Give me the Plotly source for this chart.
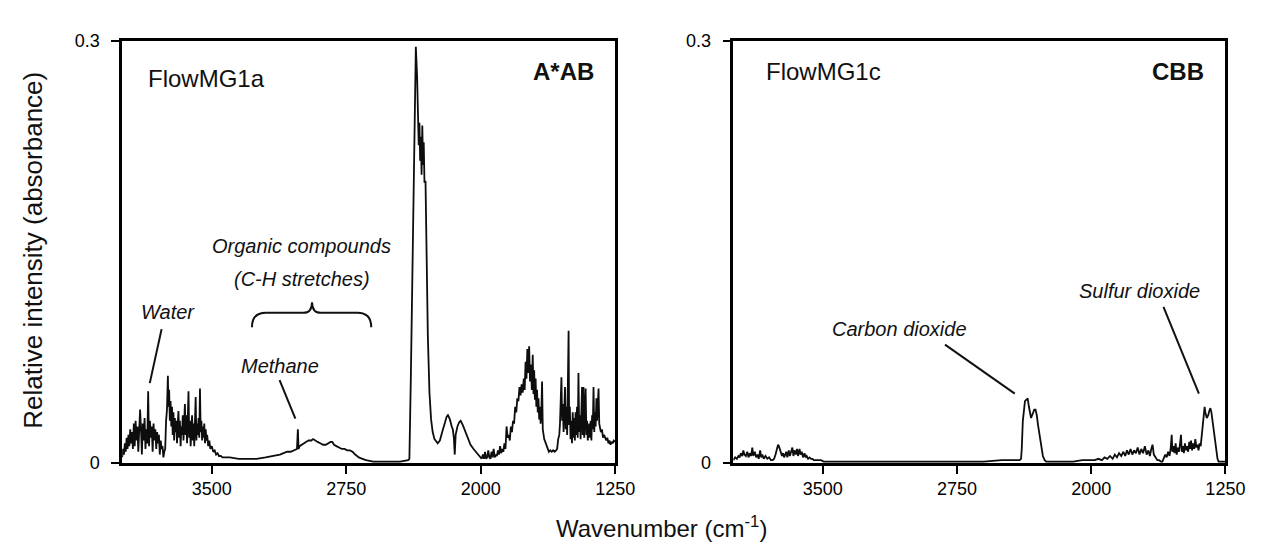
import plotly.graph_objects as go

W, H = 1261, 544

# ---------------- data: FlowMG1a (left panel) ----------------
wn_a_water1 = [4000, 3995, 3990, 3985, 3980, 3975, 3970, 3965, 3960, 3955,
               3950, 3945, 3940, 3935, 3930, 3925, 3920, 3915, 3910, 3905,
               3900, 3895, 3890, 3885, 3880, 3875, 3870, 3865, 3860, 3855,
               3850, 3845, 3840, 3835, 3830, 3825, 3820, 3815, 3810, 3805,
               3800, 3795, 3790, 3785, 3780, 3775, 3770, 3765]
abs_a_water1 = [0.004, 0.010, 0.006, 0.014, 0.008, 0.018, 0.010, 0.020, 0.012, 0.024,
                0.014, 0.022, 0.010, 0.028, 0.012, 0.030, 0.016, 0.026, 0.008, 0.030,
                0.038, 0.024, 0.006, 0.028, 0.016, 0.032, 0.010, 0.024, 0.014, 0.051,
                0.012, 0.030, 0.018, 0.026, 0.008, 0.028, 0.016, 0.024, 0.010, 0.022,
                0.014, 0.020, 0.006, 0.016, 0.010, 0.012, 0.004, 0.008]

wn_a_water2 = [3760, 3755, 3750, 3745, 3742, 3738, 3734, 3730, 3726, 3722,
               3718, 3714, 3710, 3706, 3702, 3698, 3694, 3690, 3686, 3682,
               3678, 3674, 3670, 3666, 3662, 3658, 3654, 3650, 3646, 3642,
               3638, 3634, 3630, 3626, 3622, 3618, 3614, 3610, 3606, 3602,
               3598, 3594, 3590, 3586, 3582, 3578, 3574, 3570, 3566, 3562,
               3558, 3554, 3550, 3546, 3542, 3538, 3534, 3530, 3526, 3520,
               3514, 3508, 3500, 3492, 3484, 3476, 3468, 3460, 3450, 3440]
abs_a_water2 = [0.010, 0.030, 0.038, 0.062, 0.040, 0.052, 0.030, 0.044, 0.026, 0.040,
                0.020, 0.036, 0.016, 0.032, 0.022, 0.030, 0.014, 0.028, 0.037, 0.018,
                0.030, 0.012, 0.026, 0.020, 0.034, 0.016, 0.030, 0.042, 0.020, 0.034,
                0.014, 0.028, 0.051, 0.018, 0.030, 0.012, 0.026, 0.034, 0.016, 0.028,
                0.012, 0.030, 0.047, 0.016, 0.028, 0.020, 0.032, 0.018, 0.053, 0.022,
                0.030, 0.016, 0.026, 0.018, 0.028, 0.014, 0.024, 0.016, 0.020, 0.012,
                0.016, 0.010, 0.012, 0.008, 0.009, 0.006, 0.007, 0.005, 0.005, 0.004]

wn_a_ch = [3400, 3350, 3300, 3250, 3200, 3150, 3120, 3100, 3080, 3060,
           3040, 3025, 3020, 3016, 3010, 3000, 2990, 2975, 2960, 2945,
           2935, 2925, 2910, 2895, 2880, 2864, 2850, 2838, 2828, 2818,
           2805, 2790, 2775, 2760, 2745, 2730, 2715, 2700, 2680, 2660,
           2640, 2600, 2550, 2500, 2450, 2405]
abs_a_ch = [0.004, 0.003, 0.003, 0.003, 0.004, 0.005, 0.006, 0.007, 0.008, 0.008,
            0.009, 0.010, 0.024, 0.010, 0.012, 0.013, 0.014, 0.015, 0.016, 0.016,
            0.017, 0.016, 0.015, 0.014, 0.013, 0.013, 0.014, 0.015, 0.015, 0.013,
            0.012, 0.011, 0.010, 0.010, 0.009, 0.009, 0.008, 0.006, 0.004, 0.003,
            0.002, 0.001, 0.001, 0.001, 0.001, 0.002]

wn_a_co2 = [2398, 2390, 2380, 2370, 2362, 2355, 2350, 2346, 2342, 2338,
            2334, 2330, 2326, 2322, 2318, 2314, 2308, 2302, 2295, 2286,
            2277, 2268, 2258, 2240, 2228, 2215, 2200, 2190, 2183, 2172,
            2162, 2156, 2150, 2145, 2140, 2130, 2120, 2112, 2100, 2085,
            2070, 2057, 2040, 2019, 2002]
abs_a_co2 = [0.003, 0.060, 0.140, 0.220, 0.296, 0.275, 0.253, 0.226, 0.242, 0.215,
             0.232, 0.205, 0.240, 0.212, 0.228, 0.200, 0.200, 0.145, 0.090, 0.050,
             0.031, 0.022, 0.017, 0.014, 0.016, 0.022, 0.029, 0.033, 0.034, 0.031,
             0.026, 0.024, 0.018, 0.006, 0.020, 0.026, 0.029, 0.030, 0.027, 0.022,
             0.017, 0.013, 0.010, 0.007, 0.004]

wn_a_low = [1995, 1988, 1982, 1976, 1970, 1964, 1958, 1952, 1946, 1940,
            1934, 1928, 1922, 1916, 1910, 1904, 1898, 1892, 1886, 1880,
            1874, 1868, 1862, 1856, 1850, 1844, 1838, 1832, 1826, 1820,
            1814, 1808, 1802, 1796, 1790, 1784, 1778, 1772, 1766, 1760,
            1755, 1750, 1745, 1740, 1735, 1730, 1725, 1720, 1715, 1710,
            1706, 1702, 1698, 1694, 1690, 1686, 1682, 1678, 1674, 1670,
            1666, 1662, 1658, 1654, 1650, 1646, 1640, 1634, 1628, 1620,
            1612, 1604, 1596, 1588, 1580, 1574, 1568, 1562, 1558, 1554,
            1550, 1546, 1542, 1538, 1534, 1530, 1526, 1522, 1518, 1514,
            1510, 1507, 1503, 1499, 1495, 1491, 1487, 1483, 1479, 1475,
            1471, 1467, 1463, 1459, 1455, 1451, 1447, 1443, 1439, 1435,
            1431, 1427, 1423, 1419, 1415, 1411, 1407, 1403, 1399, 1395,
            1391, 1387, 1383, 1379, 1375, 1371, 1367, 1363, 1359, 1355,
            1351, 1347, 1343, 1339, 1335, 1330, 1324, 1318, 1312, 1306,
            1300, 1294, 1288, 1282, 1276, 1270, 1264, 1258, 1250]
abs_a_low = [0.003, 0.006, 0.003, 0.008, 0.003, 0.004, 0.009, 0.004, 0.003, 0.008,
             0.004, 0.010, 0.004, 0.006, 0.005, 0.009, 0.006, 0.012, 0.007, 0.010,
             0.008, 0.014, 0.010, 0.026, 0.018, 0.020, 0.016, 0.026, 0.022, 0.030,
             0.028, 0.040, 0.036, 0.046, 0.044, 0.054, 0.048, 0.056, 0.050, 0.060,
             0.052, 0.072, 0.060, 0.081, 0.064, 0.083, 0.058, 0.070, 0.052, 0.077,
             0.049, 0.066, 0.045, 0.060, 0.040, 0.052, 0.036, 0.046, 0.031, 0.040,
             0.028, 0.036, 0.058, 0.024, 0.020, 0.017, 0.015, 0.013, 0.010, 0.008,
             0.009, 0.008, 0.009, 0.008, 0.009, 0.010, 0.017, 0.020, 0.028, 0.040,
             0.061, 0.030, 0.042, 0.022, 0.036, 0.054, 0.024, 0.040, 0.020, 0.046,
             0.094, 0.027, 0.040, 0.017, 0.030, 0.014, 0.036, 0.018, 0.032, 0.016,
             0.036, 0.020, 0.040, 0.018, 0.064, 0.022, 0.034, 0.017, 0.030, 0.054,
             0.020, 0.054, 0.018, 0.034, 0.053, 0.020, 0.030, 0.016, 0.022, 0.028,
             0.018, 0.030, 0.016, 0.034, 0.024, 0.054, 0.022, 0.036, 0.026, 0.046,
             0.030, 0.040, 0.053, 0.028, 0.025, 0.022, 0.024, 0.018, 0.020, 0.018,
             0.016, 0.018, 0.014, 0.016, 0.013, 0.015, 0.014, 0.016, 0.015]

# ---------------- data: FlowMG1c (right panel) ----------------
wn_c_water = [4000, 3990, 3980, 3972, 3965, 3958, 3950, 3944, 3938, 3930,
              3922, 3915, 3908, 3900, 3894, 3888, 3880, 3872, 3865, 3858,
              3850, 3844, 3838, 3830, 3820, 3810, 3800, 3790, 3780, 3772,
              3764, 3756, 3750, 3745, 3740, 3734, 3728, 3722, 3716, 3710,
              3704, 3698, 3690, 3684, 3678, 3670, 3664, 3658, 3650, 3644,
              3638, 3630, 3624, 3618, 3610, 3602, 3596, 3590, 3582, 3574,
              3566, 3558, 3550, 3540, 3525, 3510, 3495, 3480, 3460, 3440]
abs_c_water = [0.002, 0.004, 0.003, 0.005, 0.004, 0.007, 0.005, 0.009, 0.006, 0.005,
               0.008, 0.004, 0.007, 0.005, 0.011, 0.005, 0.008, 0.004, 0.006, 0.003,
               0.009, 0.004, 0.006, 0.003, 0.005, 0.003, 0.004, 0.002, 0.002, 0.003,
               0.006, 0.010, 0.013, 0.012, 0.010, 0.007, 0.005, 0.007, 0.004, 0.006,
               0.008, 0.004, 0.009, 0.005, 0.007, 0.011, 0.005, 0.009, 0.006, 0.010,
               0.005, 0.010, 0.006, 0.008, 0.004, 0.007, 0.004, 0.005, 0.003, 0.004,
               0.003, 0.003, 0.002, 0.002, 0.002, 0.002, 0.001, 0.001, 0.001, 0.001]

wn_c_co2 = [3400, 3300, 3200, 3100, 3000, 2900, 2800, 2700, 2600, 2500,
            2420, 2400, 2392, 2388, 2382, 2376, 2370, 2362, 2355, 2348,
            2342, 2336, 2330, 2324, 2318, 2311, 2304, 2297, 2289, 2280,
            2270, 2260, 2251, 2230, 2200, 2150, 2100, 2050, 2000]
abs_c_co2 = [0.001, 0.001, 0.001, 0.001, 0.001, 0.001, 0.001, 0.001, 0.001, 0.002,
             0.002, 0.002, 0.003, 0.010, 0.030, 0.040, 0.044, 0.045, 0.046, 0.040,
             0.034, 0.032, 0.034, 0.037, 0.038, 0.038, 0.034, 0.027, 0.020, 0.011,
             0.005, 0.002, 0.001, 0.001, 0.001, 0.001, 0.001, 0.002, 0.002]

wn_c_so2 = [1980, 1960, 1940, 1925, 1910, 1895, 1880, 1868, 1856, 1844,
            1832, 1820, 1810, 1800, 1790, 1780, 1770, 1760, 1750, 1740,
            1730, 1720, 1710, 1700, 1690, 1680, 1672, 1664, 1657, 1650,
            1640, 1630, 1620, 1610, 1602, 1594, 1586, 1578, 1570, 1562,
            1556, 1550, 1546, 1540, 1534, 1528, 1522, 1516, 1510, 1504,
            1498, 1494, 1488, 1482, 1476, 1470, 1464, 1458, 1452, 1446,
            1442, 1436, 1430, 1424, 1418, 1412, 1406, 1400, 1394, 1388,
            1382, 1376, 1370, 1366, 1362, 1358, 1354, 1350, 1346, 1340,
            1334, 1328, 1322, 1316, 1310, 1302, 1294, 1288, 1280, 1270,
            1260, 1250]
abs_c_so2 = [0.002, 0.003, 0.002, 0.004, 0.003, 0.005, 0.003, 0.006, 0.004, 0.007,
             0.005, 0.008, 0.005, 0.009, 0.006, 0.010, 0.006, 0.009, 0.007, 0.011,
             0.006, 0.010, 0.007, 0.012, 0.006, 0.009, 0.005, 0.010, 0.013, 0.006,
             0.004, 0.002, 0.002, 0.001, 0.001, 0.003, 0.006, 0.004, 0.008, 0.005,
             0.010, 0.020, 0.008, 0.012, 0.007, 0.014, 0.006, 0.011, 0.008, 0.013,
             0.020, 0.008, 0.012, 0.007, 0.014, 0.009, 0.012, 0.008, 0.015, 0.010,
             0.016, 0.009, 0.014, 0.010, 0.017, 0.011, 0.013, 0.009, 0.014, 0.012,
             0.020, 0.030, 0.038, 0.040, 0.036, 0.033, 0.032, 0.033, 0.034, 0.037,
             0.039, 0.036, 0.030, 0.024, 0.018, 0.008, 0.003, 0.001, 0.001, 0.001,
             0.001, 0.001]

x_ticks = [3500, 2750, 2000, 1250]
y_ticks = [0, 0.3]
y_ticktext = ["0", "0.3"]

wn_a = wn_a_water1 + wn_a_water2 + wn_a_ch + wn_a_co2 + wn_a_low
abs_a = abs_a_water1 + abs_a_water2 + abs_a_ch + abs_a_co2 + abs_a_low
wn_c = wn_c_water + wn_c_co2 + wn_c_so2
abs_c = abs_c_water + abs_c_co2 + abs_c_so2

FONT = "Liberation Sans, Arial, Helvetica, sans-serif"
LINE = "#0d0d0d"

fig = go.Figure()
fig.add_trace(go.Scatter(x=wn_a, y=abs_a, mode="lines", xaxis="x", yaxis="y",
                         line=dict(color=LINE, width=1.8), showlegend=False))
fig.add_trace(go.Scatter(x=wn_c, y=abs_c, mode="lines", xaxis="x2", yaxis="y2",
                         line=dict(color=LINE, width=1.8), showlegend=False))


def px(xp, yp):
    return xp / W, 1 - yp / H


axis_common = dict(showgrid=False, zeroline=False, showline=True, linecolor="black",
                   linewidth=2.5, mirror=True, ticks="outside", ticklen=8, tickwidth=2,
                   tickcolor="black", tickfont=dict(family=FONT, size=18, color="#000"))

fig.update_layout(
    width=W, height=H, margin=dict(l=0, r=0, t=0, b=0),
    paper_bgcolor="white", plot_bgcolor="white",
    font=dict(family=FONT, color="#111"),
    xaxis=dict(domain=[116 / W, 617 / W], range=[4000, 1250], tickvals=x_ticks,
               anchor="y", **axis_common),
    yaxis=dict(domain=[1 - 462 / H, 1 - 24 / H], range=[0, 0.3], tickvals=y_ticks,
               ticktext=y_ticktext, anchor="x", ticklabelstandoff=8, **axis_common),
    xaxis2=dict(domain=[737 / W, 1237 / W], range=[4000, 1250], tickvals=x_ticks,
                anchor="y2", **axis_common),
    yaxis2=dict(domain=[1 - 462 / H, 1 - 24 / H], range=[0, 0.3], tickvals=y_ticks,
                ticktext=y_ticktext, anchor="x2", ticklabelstandoff=8, **axis_common),
)


def label(text, xp, yp, size=20, xanchor="center", angle=0):
    x, y = px(xp, yp)
    fig.add_annotation(x=x, y=y, xref="paper", yref="paper", text=text, showarrow=False,
                       xanchor=xanchor, yanchor="middle", textangle=angle,
                       font=dict(family=FONT, size=size, color="#111"))


label("FlowMG1a", 140, 63, size=24, xanchor="left")
label("<b>A*AB</b>", 597, 56, size=24, xanchor="right")
label("FlowMG1c", 768, 56, size=24, xanchor="left")
label("<b>CBB</b>", 1217, 56, size=24, xanchor="right")
label("<i>Organic compounds</i>", 298.5, 237)
label("<i>(C-H stretches)</i>", 299, 271)
label("<i>Water</i>", 162.5, 305)
label("<i>Methane</i>", 276, 361)
label("<i>Carbon dioxide</i>", 906, 323)
label("<i>Sulfur dioxide</i>", 1150, 283)
label("Relative intensity (absorbance)", 26, 241, size=26, angle=-90)
label("Wavenumber (cm<sup>-1</sup>)", 664, 528, size=24)

# leader lines (data coordinates)
lines_a = [((3780, 0.0952), (3846, 0.0568)), ((3122, 0.0589), (3034, 0.0315))]
lines_c = [((2817, 0.0842), (2427, 0.0493)), ((1596, 0.111), (1398, 0.0493))]
for (x0, y0), (x1, y1) in lines_a:
    fig.add_shape(type="line", xref="x", yref="y", x0=x0, y0=y0, x1=x1, y1=y1,
                  line=dict(color="#111", width=2))
for (x0, y0), (x1, y1) in lines_c:
    fig.add_shape(type="line", xref="x2", yref="y2", x0=x0, y0=y0, x1=x1, y1=y1,
                  line=dict(color="#111", width=2))

# curly brace over the C-H stretch region
brace = ("M 3276,0.0966 Q 3276,0.1068 3199,0.1068 L 2990,0.1068 "
         "Q 2941,0.1068 2941,0.1144 Q 2941,0.1068 2891,0.1068 L 2688,0.1068 "
         "Q 2611,0.1068 2611,0.0966")
fig.add_shape(type="path", xref="x", yref="y", path=brace,
              line=dict(color="#111", width=2))

fig.write_html("out.html")
